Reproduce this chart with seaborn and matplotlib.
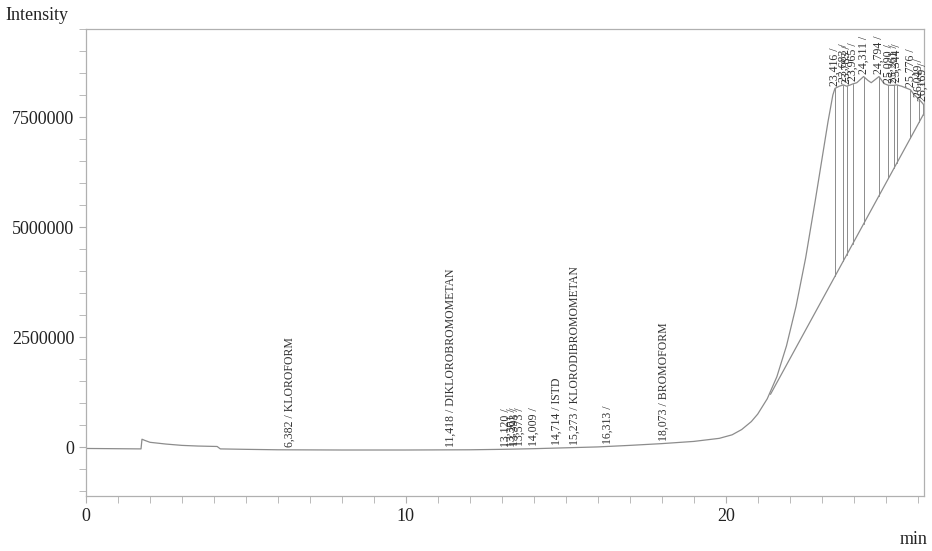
import numpy as np
import pandas as pd
import matplotlib
matplotlib.use("Agg")
import matplotlib.pyplot as plt
import seaborn as sns
from matplotlib.ticker import MultipleLocator

# Chromatogram trace (min, intensity)
time_min = [0.0, 1.72, 1.75, 1.85, 2.0, 2.5, 3.0, 3.5, 4.1, 4.2, 5.0, 6.0, 8.0, 10.0,
            12.0, 13.0, 14.0, 15.0, 16.0, 17.0, 18.0, 19.0, 19.8, 20.2, 20.5, 20.8,
            21.0, 21.3, 21.6, 21.9, 22.2, 22.5, 22.8, 23.0, 23.2, 23.35, 23.416, 23.55,
            23.683, 23.783, 23.9, 23.965, 24.1, 24.311, 24.45, 24.55, 24.794, 24.95,
            25.09, 25.261, 25.344, 25.5, 25.776, 25.9, 26.049, 26.169, 26.25]
intensity = [-30000, -40000, 180000, 150000, 110000, 70000, 40000, 25000, 15000, -40000,
             -50000, -60000, -65000, -65000, -60000, -50000, -35000, -15000, 5000,
             40000, 80000, 130000, 200000, 280000, 400000, 580000, 750000, 1100000,
             1600000, 2300000, 3200000, 4300000, 5600000, 6500000, 7400000, 8000000,
             8150000, 8200000, 8230000, 8200000, 8230000, 8250000, 8280000, 8420000,
             8330000, 8280000, 8420000, 8260000, 8220000, 8220000, 8230000, 8200000,
             8120000, 8000000, 7900000, 7800000, 7700000]

# Integration baseline under the big peak cluster
baseline_x = [21.4, 26.25]
baseline_y = [1200000, 7650000]

# Labelled peaks on the flat part
small_times = ["6,382", "11,418", "13,120", "13,301", "13,393", "13,573", "14,009",
               "14,714", "15,273", "16,313", "18,073"]
small_names = ["KLOROFORM", "DIKLOROBROMOMETAN", "", "", "", "", "", "ISTD",
               "KLORODIBROMOMETAN", "", "BROMOFORM"]

# Peaks in the big cluster
big_times = ["23,416", "23,683", "23,783", "23,965", "24,311", "24,794", "25,090",
             "25,261", "25,344", "25,776", "26,049", "26,169"]

y_ticks = [0, 2500000, 5000000, 7500000]
x_ticks = [0, 10, 20]

df = pd.DataFrame({"t": time_min, "I": intensity})
base_df = pd.DataFrame({"t": baseline_x, "I": baseline_y})

sns.set_style("ticks")
plt.rcParams["font.family"] = ["Liberation Serif", "DejaVu Serif"]

fig = plt.figure(figsize=(9.32, 5.51), dpi=100)
ax = fig.add_axes([86 / 932, 1 - 496 / 551, (924 - 86) / 932, (496 - 29) / 551])

col = "#8c8c8c"
sns.lineplot(data=df, x="t", y="I", ax=ax, color=col, linewidth=0.9)
sns.lineplot(data=base_df, x="t", y="I", ax=ax, color=col, linewidth=0.9)


def to_num(s):
    return float(s.replace(",", "."))


def base_at(t):
    return np.interp(t, baseline_x, baseline_y)


# drop lines and labels of the cluster
for lab in big_times:
    t = to_num(lab)
    top = np.interp(t, time_min, intensity)
    ax.plot([t, t], [base_at(t), top], color=col, linewidth=0.7)
    ax.text(t, top + 60000, lab + " /", rotation=90, ha="center", va="bottom",
            fontsize=8.5, color="#333333")

for lab, name in zip(small_times, small_names):
    t = to_num(lab)
    y = np.interp(t, time_min, intensity)
    txt = lab + " / " + name if name else lab + " /"
    ax.text(t, y + 60000, txt, rotation=90, ha="center", va="bottom",
            fontsize=8.5, color="#333333")

ax.set_xlim(0, 26.2)
ax.set_ylim(-1110000, 9500000)
ax.set_xticks(x_ticks)
ax.set_xticklabels([str(v) for v in x_ticks])
ax.set_yticks(y_ticks)
ax.set_yticklabels([str(v) for v in y_ticks])
ax.xaxis.set_minor_locator(MultipleLocator(1))
ax.yaxis.set_minor_locator(MultipleLocator(500000))
ax.set_xlabel("")
ax.set_ylabel("")

for side in ["left", "bottom", "top", "right"]:
    ax.spines[side].set_color("#b0b0b0")
    ax.spines[side].set_linewidth(0.9)
ax.tick_params(axis="both", which="both", color="#b0b0b0", direction="out",
               labelsize=13, labelcolor="#222222")
ax.tick_params(which="major", length=5)
ax.tick_params(which="minor", length=5)

fig.text(5 / 932, 1 - 15 / 551, "Intensity", fontsize=13, va="center", ha="left",
         color="#222222")
fig.text(928 / 932, 1 - 540 / 551, "min", fontsize=13, va="center", ha="right",
         color="#222222")

fig.savefig("out.png", dpi=100)
